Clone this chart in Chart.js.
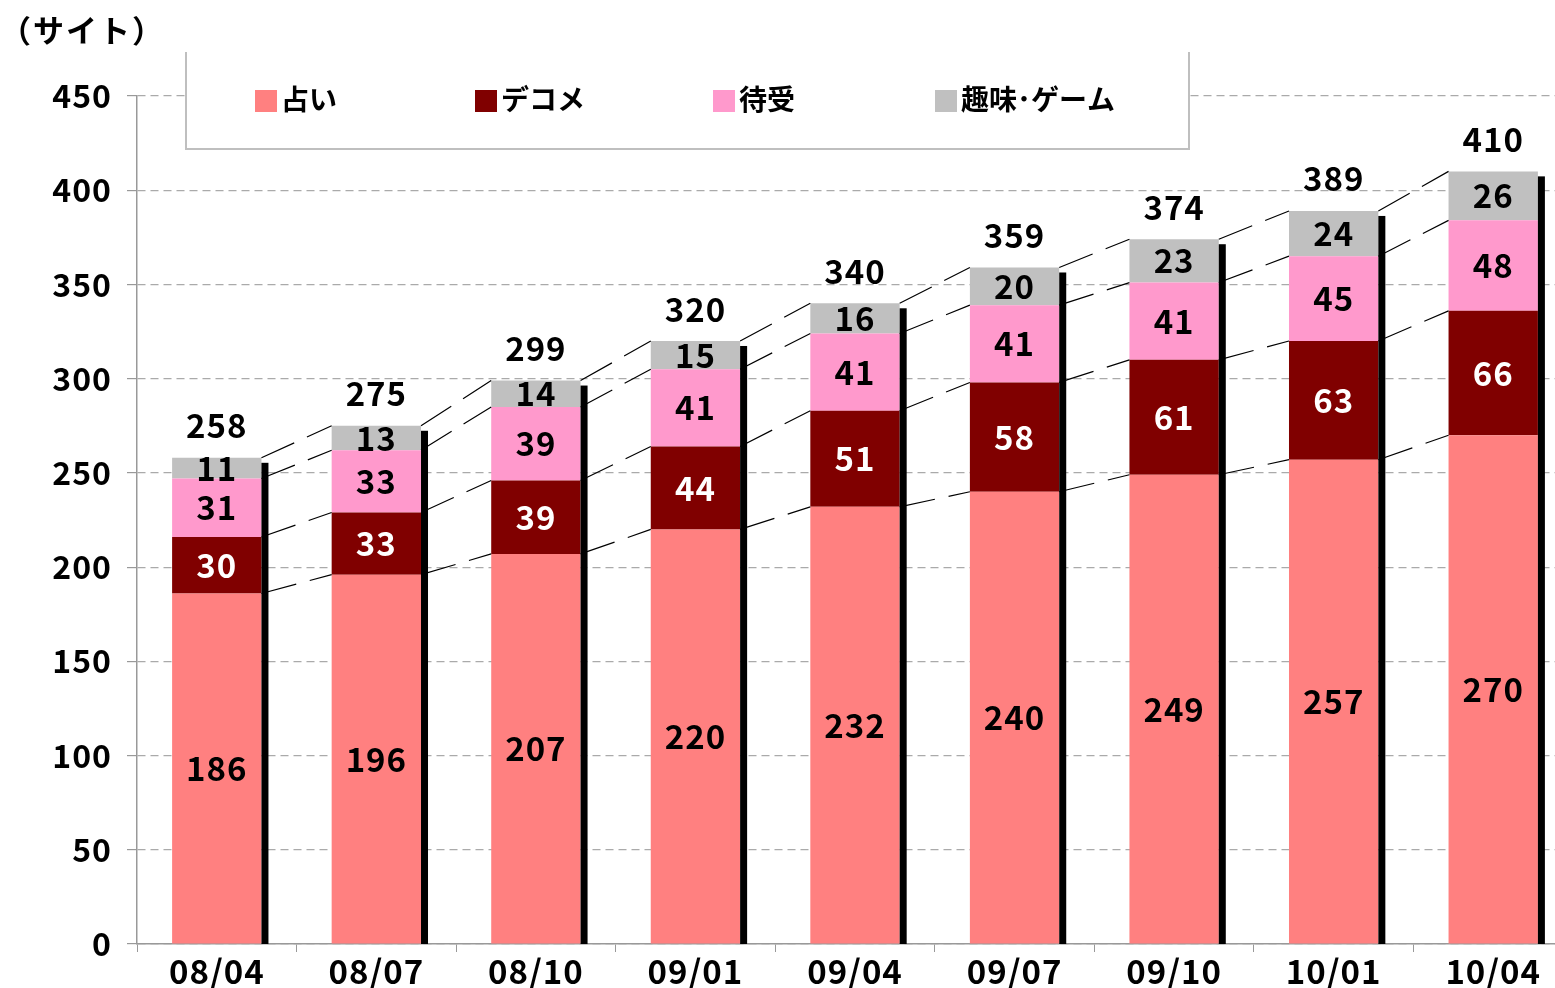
<!DOCTYPE html>
<html><head><meta charset="utf-8">
<script src="https://cdn.jsdelivr.net/npm/chart.js@4/dist/chart.umd.min.js"></script>
<style>
html,body{margin:0;padding:0;background:#fff;overflow:hidden;width:1555px;height:988px;}
#wrap{position:absolute;left:0;top:0;width:1573px;height:988px;}
</style></head>
<body>
<div id="wrap"><canvas id="c" width="1573" height="988"></canvas></div>
<script>
const categories = ['08/04','08/07','08/10','09/01','09/04','09/07','09/10','10/01','10/04'];
const uranai   = [186,196,207,220,232,240,249,257,270];
const decome   = [30,33,39,44,51,58,61,63,66];
const machiuke = [31,33,39,41,41,41,41,45,48];
const shumi    = [11,13,14,15,16,20,23,24,26];
const totals   = [258,275,299,320,340,359,374,389,410];
const seriesNames = ['占い','デコメ','待受','趣味･ゲーム'];
const seriesColors = ['#FF8080','#800000','#FF99CC','#C0C0C0'];
const labelColors = ['#000','#fff','#000','#000'];
const yTicks = [0,50,100,150,200,250,300,350,400,450];

const FONT = '"Noto Sans CJK JP", "Liberation Sans", sans-serif';

const overlay = {
  id:'overlay',
  beforeDraw(chart){ chart.ctx.letterSpacing = '1px'; },
  beforeDatasetsDraw(chart){ chart.ctx.letterSpacing = '0px'; },
  afterDatasetsDraw(chart){
    const ctx = chart.ctx;
    const metas = [0,1,2,3].map(k=>chart.getDatasetMeta(k));
    const base = chart.scales.y.getPixelForValue(0);
    const n = categories.length;
    ctx.save();
    // shadows
    for(let i=0;i<n;i++){
      const el = metas[3].data[i];
      const right = el.x + el.width/2;
      ctx.fillStyle='#000';
      ctx.fillRect(right, el.y+5, 7, base-el.y-5);
    }
    // series lines
    ctx.strokeStyle='#000'; ctx.lineWidth=1.2; ctx.setLineDash([36,14]);
    for(let k=0;k<4;k++){
      for(let i=0;i<n-1;i++){
        const a = metas[k].data[i], b = metas[k].data[i+1];
        ctx.beginPath();
        ctx.moveTo(a.x + a.width/2, a.y);
        ctx.lineTo(b.x - b.width/2, b.y);
        ctx.stroke();
      }
    }
    ctx.setLineDash([]);
    // labels
    ctx.textAlign='center'; ctx.textBaseline='middle';
    ctx.font = 'bold 33px ' + FONT;
    ctx.letterSpacing = '1px';
    for(let k=0;k<4;k++){
      const vals = chart.data.datasets[k].data;
      for(let i=0;i<n;i++){
        const el = metas[k].data[i];
        ctx.fillStyle = labelColors[k];
        ctx.fillText(String(vals[i]), el.x, (el.y+el.base)/2);
      }
    }
    ctx.fillStyle='#000';
    for(let i=0;i<n;i++){
      const el = metas[3].data[i];
      ctx.fillText(String(totals[i]), el.x, el.y-32);
    }
    ctx.restore();
  },
  afterDraw(chart){
    const ctx = chart.ctx;
    ctx.save();
    ctx.letterSpacing = '0px';
    // legend box
    ctx.fillStyle='#fff';
    ctx.fillRect(185,50,1004,99);
    ctx.strokeStyle='#BFBFBF'; ctx.lineWidth=2;
    ctx.beginPath();
    ctx.moveTo(186,52); ctx.lineTo(186,149); ctx.lineTo(1189,149); ctx.lineTo(1189,52);
    ctx.stroke();
    const xs=[255,475,713,935];
    ctx.font='bold 28px ' + FONT; ctx.textBaseline='middle'; ctx.textAlign='left';
    for(let k=0;k<4;k++){
      ctx.fillStyle=seriesColors[k];
      ctx.fillRect(xs[k],90,22,22);
      ctx.fillStyle='#000';
      ctx.fillText(seriesNames[k], xs[k]+26, 99);
    }
    // y title
    ctx.font='bold 31px ' + FONT;
    ctx.letterSpacing = '2px';
    ctx.fillText('（サイト）', 0, 30);
    ctx.restore();
  }
};

new Chart(document.getElementById('c'), {
  type:'bar',
  data:{
    labels: categories,
    datasets:[
      {label:seriesNames[0], data:uranai, backgroundColor:seriesColors[0]},
      {label:seriesNames[1], data:decome, backgroundColor:seriesColors[1]},
      {label:seriesNames[2], data:machiuke, backgroundColor:seriesColors[2]},
      {label:seriesNames[3], data:shumi, backgroundColor:seriesColors[3]}
    ]
  },
  options:{
    responsive:false, animation:false,
    layout:{padding:{top:96,left:0,right:0,bottom:0}},
    datasets:{bar:{categoryPercentage:1, barPercentage:0.56, borderWidth:0}},
    plugins:{legend:{display:false}, tooltip:{enabled:false}},
    scales:{
      x:{
        stacked:true,
        grid:{offset:true, drawOnChartArea:false, drawTicks:true, tickLength:8, color:'#999'},
        border:{color:'#999', width:1.5},
        ticks:{color:'#000', font:{family:FONT, size:33, weight:'bold'}, padding:0, maxRotation:0},
        afterFit(s){ s.height = 44; }
      },
      y:{
        stacked:true, min:0, max:450,
        afterBuildTicks(s){ s.ticks = yTicks.map(v=>({value:v})); },
        grid:{color:'#AAAAAA', tickLength:10, lineWidth:1.2, tickColor:'#999'},
        border:{color:'#999', width:1.5, dash:[8,5]},
        ticks:{color:'#000', font:{family:FONT, size:32, weight:'bold'}, padding:15},
        afterFit(s){ s.width = 137; }
      }
    }
  },
  plugins:[overlay]
});
</script>
</body></html>
